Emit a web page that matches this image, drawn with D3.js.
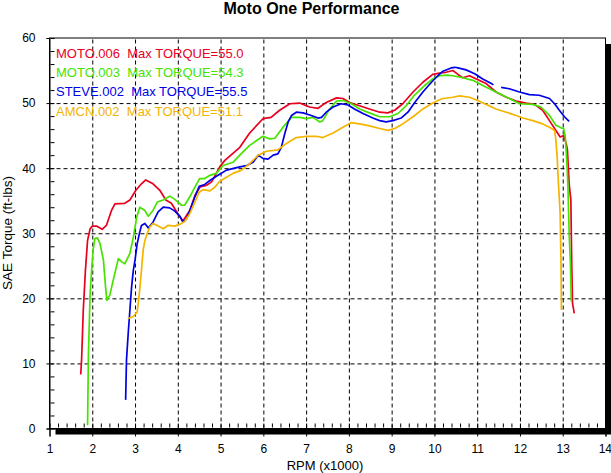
<!DOCTYPE html>
<html>
<head>
<meta charset="utf-8">
<script src="https://cdn.jsdelivr.net/npm/d3@7"></script>
<style>
  body { margin: 0; background: #fff; }
  text { font-family: "Liberation Sans", Arial, sans-serif; }
</style>
</head>
<body>
<div id="chart"></div>
<script>
// run names and peak torque shown in the legend
var runNames = ["MOTO.006", "MOTO.003", "STEVE.002", "AMCN.002"];
var runMax = ["55.0", "54.3", "55.5", "51.1"];
var runColors = ["#e8001e", "#46e300", "#0000e6", "#f5b400"];

var xTicks = [1, 2, 3, 4, 5, 6, 7, 8, 9, 10, 11, 12, 13, 14];
var yTicks = [0, 10, 20, 30, 40, 50, 60];

// MOTO.006
var moto006Rpm = [1.73, 1.75, 1.79, 1.84, 1.89, 1.95, 2.00, 2.10, 2.23, 2.33, 2.45, 2.53, 2.76, 2.88, 3.02, 3.15, 3.25, 3.42, 3.58, 3.72, 3.85, 4.00, 4.12, 4.28, 4.40, 4.52, 4.68, 4.79, 4.90, 4.98, 5.10, 5.45, 5.68, 5.99, 6.18, 6.38, 6.62, 6.85, 7.08, 7.28, 7.47, 7.71, 7.86, 8.02, 8.25, 8.48, 8.72, 8.91, 9.07, 9.26, 9.50, 9.73, 9.96, 10.12, 10.25, 10.43, 10.55, 10.66, 10.82, 10.98, 11.21, 11.44, 11.68, 11.91, 12.14, 12.34, 12.53, 12.69, 12.84, 12.94, 13.02, 13.08, 13.11, 13.15, 13.19, 13.21, 13.23, 13.27];
var moto006Tq = [8.3, 10.5, 18.2, 24.3, 28.9, 30.7, 31.1, 31.1, 30.6, 31.2, 33.5, 34.5, 34.6, 35.1, 36.6, 37.6, 38.2, 37.6, 36.6, 35.1, 34.6, 33.0, 31.9, 33.5, 35.8, 37.1, 37.4, 37.9, 39.2, 40.2, 41.2, 43.2, 45.4, 47.6, 47.8, 48.9, 49.9, 50.0, 49.4, 49.2, 50.1, 50.8, 50.7, 50.1, 49.6, 49.1, 48.6, 48.5, 48.9, 49.9, 51.7, 53.2, 54.4, 54.6, 54.7, 55.0, 54.4, 53.9, 54.2, 53.7, 53.0, 51.7, 50.9, 50.3, 50.0, 49.8, 48.9, 47.3, 45.8, 44.8, 45.0, 43.8, 42.8, 37.6, 35.1, 25.3, 19.2, 17.7];

// MOTO.003
var moto003Rpm = [1.89, 1.91, 1.95, 1.99, 2.02, 2.06, 2.12, 2.18, 2.26, 2.31, 2.34, 2.41, 2.49, 2.61, 2.69, 2.76, 2.88, 2.96, 3.04, 3.11, 3.23, 3.31, 3.42, 3.52, 3.66, 3.81, 3.93, 4.09, 4.16, 4.28, 4.40, 4.51, 4.63, 4.75, 4.90, 5.06, 5.29, 5.45, 5.68, 5.99, 6.15, 6.27, 6.46, 6.66, 6.85, 7.00, 7.16, 7.32, 7.39, 7.55, 7.71, 7.86, 8.06, 8.25, 8.48, 8.72, 8.95, 9.15, 9.34, 9.53, 9.77, 9.96, 10.12, 10.30, 10.43, 10.66, 10.90, 11.13, 11.44, 11.75, 11.99, 12.30, 12.49, 12.69, 12.84, 12.96, 13.02, 13.06, 13.09, 13.12, 13.15, 13.18, 13.20];
var moto003Tq = [0.5, 11.5, 20.7, 24.8, 27.4, 29.2, 29.3, 28.4, 25.9, 21.8, 19.7, 20.5, 22.8, 26.1, 25.6, 25.3, 26.9, 29.4, 32.5, 34.0, 33.5, 32.6, 33.5, 34.8, 35.1, 35.7, 35.2, 34.3, 34.3, 35.6, 37.1, 38.4, 38.4, 38.9, 39.2, 40.4, 40.9, 42.0, 43.5, 44.9, 44.5, 44.6, 46.3, 47.8, 47.8, 47.6, 47.8, 47.1, 47.3, 49.1, 50.3, 50.4, 49.9, 49.1, 48.5, 47.9, 47.9, 48.4, 49.6, 51.2, 52.7, 53.7, 54.2, 54.3, 54.2, 53.9, 53.5, 52.7, 51.7, 50.7, 49.9, 49.8, 49.4, 48.1, 46.6, 46.2, 46.1, 44.8, 41.7, 37.6, 30.0, 25.3, 19.5];

// STEVE.002 (null = gap in the trace)
var steve002Rpm = [2.78, 2.80, 2.84, 2.88, 2.92, 2.96, 3.00, 3.05, 3.10, 3.15, 3.23, 3.31, 3.42, 3.54, 3.66, 3.81, 3.93, 4.05, 4.12, 4.20, 4.30, 4.40, 4.50, 4.63, 4.75, 4.94, 5.14, 5.45, 5.61, 5.76, 5.88, 5.99, 6.11, 6.23, 6.34, 6.42, 6.50, 6.58, 6.66, 6.77, 6.93, 7.12, 7.28, 7.36, 7.47, 7.63, 7.82, 7.98, 8.13, 8.33, 8.56, 8.72, 8.87, 9.03, 9.22, 9.38, 9.54, 9.73, 9.93, 10.08, 10.20, 10.39, 10.48, 10.55, 10.74, 10.94, 11.13, 11.33, 11.38, 11.47, 11.56, 11.75, 11.99, 12.22, 12.45, 12.69, 12.81, 12.92, 13.04, 13.15];
var steve002Tq = [4.4, 10.5, 14.6, 18.2, 21.8, 24.3, 25.9, 28.4, 29.9, 31.2, 31.5, 30.8, 31.7, 33.3, 34.0, 33.9, 33.4, 32.6, 31.7, 32.2, 33.8, 35.6, 37.2, 37.5, 38.1, 38.9, 39.7, 40.2, 40.4, 40.9, 42.0, 41.5, 41.4, 42.0, 42.2, 43.2, 45.3, 47.1, 48.1, 48.6, 48.5, 48.1, 47.7, 47.8, 48.6, 49.4, 49.9, 49.7, 49.1, 48.4, 47.7, 47.3, 47.1, 47.3, 47.7, 48.6, 50.1, 51.7, 53.2, 54.2, 54.9, 55.4, 55.5, 55.4, 55.1, 54.5, 53.7, 53.0, 52.8, null, 52.4, 52.2, 51.7, 51.3, 51.2, 50.7, 49.9, 48.9, 47.9, 47.2];

// AMCN.002
var amcn002Rpm = [2.83, 2.96, 3.05, 3.10, 3.15, 3.19, 3.23, 3.28, 3.35, 3.42, 3.54, 3.66, 3.77, 3.93, 4.05, 4.16, 4.28, 4.40, 4.50, 4.59, 4.75, 4.87, 4.98, 5.14, 5.29, 5.49, 5.68, 5.88, 6.07, 6.34, 6.54, 6.77, 7.01, 7.24, 7.39, 7.63, 7.86, 8.06, 8.25, 8.48, 8.72, 8.91, 9.07, 9.26, 9.50, 9.73, 9.93, 10.12, 10.20, 10.43, 10.59, 10.82, 11.01, 11.21, 11.44, 11.68, 11.91, 12.07, 12.30, 12.53, 12.69, 12.81, 12.84, 12.87, 12.90, 12.94, 12.96, 12.97];
var amcn002Tq = [16.9, 17.2, 17.9, 20.7, 24.3, 27.4, 28.9, 29.9, 31.0, 31.5, 31.1, 30.7, 31.2, 31.1, 31.4, 31.8, 33.0, 34.8, 36.3, 36.7, 36.5, 37.1, 38.0, 38.6, 39.2, 39.7, 40.7, 42.0, 42.6, 42.8, 43.8, 44.7, 44.9, 44.9, 44.7, 45.4, 46.3, 47.0, 46.8, 46.5, 46.1, 45.8, 46.1, 46.8, 47.9, 49.1, 49.9, 50.5, 50.7, 50.9, 51.1, 50.9, 50.4, 49.8, 49.1, 48.6, 48.1, 47.7, 47.3, 46.8, 46.3, 45.8, 44.3, 41.7, 37.6, 33.0, 25.3, 18.2];

var runs = [
  [moto006Rpm, moto006Tq],
  [moto003Rpm, moto003Tq],
  [steve002Rpm, steve002Tq],
  [amcn002Rpm, amcn002Tq]
];

var W = 611, H = 473;
var plotLeft = 49.5, plotRight = 605.5, plotTop = 38, plotBottom = 428.5;

var x = d3.scaleLinear().domain([1, 14]).range([plotLeft, plotRight]);
var y = d3.scaleLinear().domain([0, 60]).range([plotBottom, plotTop]);

var svg = d3.select("#chart").append("svg")
    .attr("width", W)
    .attr("height", H);

svg.append("rect").attr("width", W).attr("height", H).attr("fill", "#fff");

// title
svg.append("text")
    .attr("x", 311.5)
    .attr("y", 14)
    .attr("text-anchor", "middle")
    .style("font-size", "16px")
    .style("font-weight", "bold")
    .text("Moto One Performance");

// drop shadow + plot frame
svg.append("rect")
    .attr("x", plotLeft + 6).attr("y", plotTop + 6)
    .attr("width", plotRight - plotLeft).attr("height", plotBottom - plotTop)
    .attr("fill", "#000");
svg.append("rect")
    .attr("x", plotLeft).attr("y", plotTop)
    .attr("width", plotRight - plotLeft).attr("height", plotBottom - plotTop)
    .attr("fill", "#fff")
    .attr("stroke", "#000")
    .attr("stroke-width", 1);

// dashed grid
var gridX = svg.append("g")
    .attr("transform", "translate(0," + plotBottom + ")")
    .call(d3.axisBottom(x).tickValues(xTicks.slice(1, -1)).tickSize(-(plotBottom - plotTop)).tickFormat(""));
var gridY = svg.append("g")
    .attr("transform", "translate(" + plotLeft + ",0)")
    .call(d3.axisLeft(y).tickValues(yTicks.slice(1, -1)).tickSize(-(plotRight - plotLeft)).tickFormat(""));
[gridX, gridY].forEach(function(g) {
    g.select(".domain").remove();
    g.selectAll("line").attr("stroke", "#000").attr("stroke-dasharray", "4,3");
});

// minor ticks (inside)
var minorX = d3.range(1, 14.001, 0.2);
var minorY = d3.range(0, 60.001, 2);
var mx = svg.append("g")
    .attr("transform", "translate(0," + (plotBottom - 1) + ")")
    .call(d3.axisBottom(x).tickValues(minorX).tickSize(-4).tickFormat(""));
var my = svg.append("g")
    .attr("transform", "translate(" + (plotLeft + 1) + ",0)")
    .call(d3.axisLeft(y).tickValues(minorY).tickSize(-4).tickFormat(""));
[mx, my].forEach(function(g) {
    g.select(".domain").remove();
    g.selectAll("line").attr("stroke", "#000");
});

// major axes
var xAxis = svg.append("g")
    .attr("transform", "translate(0," + plotBottom + ")")
    .call(d3.axisBottom(x).tickValues(xTicks).tickSize(8).tickPadding(8).tickFormat(d3.format("d")));
var yAxis = svg.append("g")
    .attr("transform", "translate(" + plotLeft + ",0)")
    .call(d3.axisLeft(y).tickValues(yTicks).tickSize(3).tickPadding(11).tickFormat(d3.format("d")));
[xAxis, yAxis].forEach(function(g) {
    g.select(".domain").attr("stroke", "#000");
    g.selectAll("line").attr("stroke", "#000");
    g.selectAll("text")
        .attr("fill", "#000")
        .style("font-size", "12px")
        .style("font-family", "'Liberation Sans', Arial, sans-serif");
});
// keep the last rpm label inside the window
xAxis.selectAll(".tick text").filter(function(d) { return d === 14; })
    .attr("text-anchor", "end").attr("dx", "6");

// axis titles
svg.append("text")
    .attr("x", 325)
    .attr("y", 470)
    .attr("text-anchor", "middle")
    .style("font-size", "13px")
    .text("RPM (x1000)");

svg.append("text")
    .attr("transform", "translate(12,233) rotate(-90)")
    .attr("text-anchor", "middle")
    .style("font-size", "13.5px")
    .text("SAE Torque (ft-lbs)");

// torque curves
var line = d3.line()
    .defined(function(d) { return d[1] !== null; })
    .x(function(d) { return x(d[0]); })
    .y(function(d) { return y(d[1]); });

runs.forEach(function(r, i) {
    var pts = r[0].map(function(v, j) { return [v, r[1][j]]; });
    svg.append("path")
        .attr("d", line(pts))
        .attr("fill", "none")
        .attr("stroke", runColors[i])
        .attr("stroke-width", 1.7)
        .attr("stroke-linejoin", "round");
});

// legend
runNames.forEach(function(name, i) {
    svg.append("text")
        .attr("x", 56)
        .attr("y", 57.5 + i * 19.4)
        .attr("fill", runColors[i])
        .style("font-size", "13px")
        .text(name + "\u00a0\u00a0Max TORQUE=" + runMax[i]);
});
</script>
</body>
</html>
